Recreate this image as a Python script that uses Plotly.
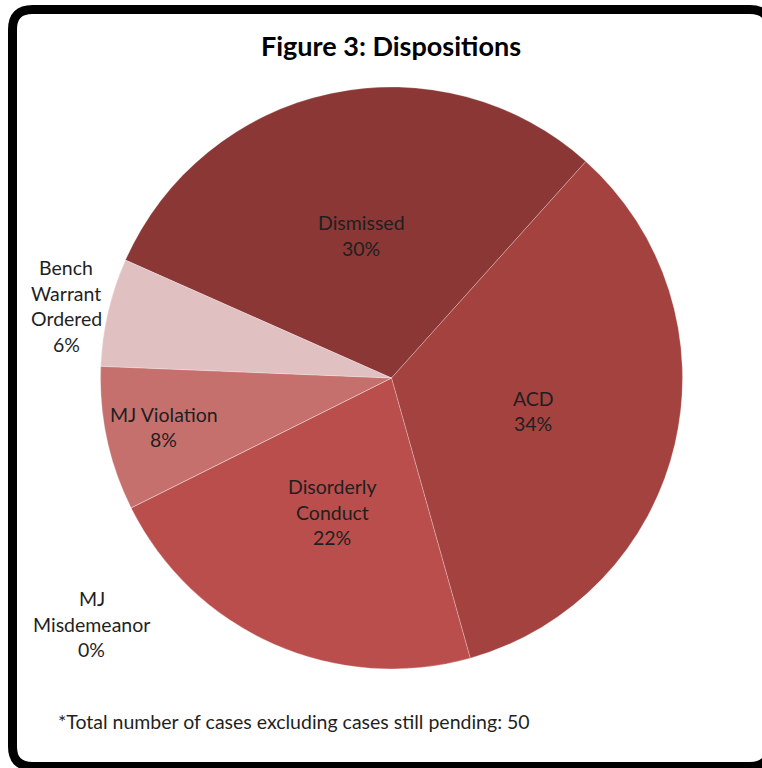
import math
import plotly.graph_objects as go

# ---- data ----
categories = ["Dismissed", "ACD", "Disorderly Conduct", "MJ Misdemeanor", "MJ Violation", "Bench Warrant Ordered"]
label_lines = [["Dismissed"], ["ACD"], ["Disorderly", "Conduct"], ["MJ", "Misdemeanor"], ["MJ Violation"], ["Bench", "Warrant", "Ordered"]]
case_counts = [15, 17, 11, 0, 4, 3]
slice_colors = ["#8A3735", "#A3423F", "#B94E4C", "#D39896", "#C6706E", "#E1C0C1"]
title_text = "Figure 3: Dispositions"
footnote_text = "*Total number of cases excluding cases still pending: 50"

# ---- layout constants (pixels) ----
W, H = 762, 768
CX, CY, R = 391.5, 378.0, 291.0
ROTATION = -66.1
# per-label placement: (radial factor, angle offset in degrees)
label_place = [(0.50, 0), (0.50, 0), (0.504, 0), (1.332, -12.9), (0.80, 0), (1.145, -0.6)]
FONT = "Lato"
TXT = "#1f1f1f"
LINE_H = 25.5
LABEL_SIZE = 19.5


def px(x):
    return x / W


def py(y):
    return 1 - y / H


fig = go.Figure()
fig.add_trace(go.Pie(
    labels=categories,
    values=case_counts,
    sort=False,
    direction="clockwise",
    rotation=ROTATION,
    marker=dict(colors=slice_colors, line=dict(color="rgba(255,255,255,0.25)", width=1)),
    textinfo="none",
    hoverinfo="label+value+percent",
    showlegend=False,
    domain=dict(x=[px(CX - R), px(CX + R)], y=[py(CY + R), py(CY - R)]),
))

# labels computed from the data (mid-angle of each slice)
total = sum(case_counts)
cum = 0
annotations = []
for cat, lines, v, (rf, off) in zip(categories, label_lines, case_counts, label_place):
    mid = ROTATION + (cum + v / 2) / total * 360 + off
    cum += v
    a = math.radians(mid)
    x = CX + rf * R * math.sin(a)
    y = CY - rf * R * math.cos(a)
    pct = f"{round(100 * v / total)}%"
    all_lines = lines + [pct]
    n = len(all_lines)
    for i, t in enumerate(all_lines):
        yy = y + (i - (n - 1) / 2) * LINE_H
        annotations.append(dict(
            x=px(x), y=py(yy), xref="paper", yref="paper",
            text=t, showarrow=False, xanchor="center", yanchor="middle",
            font=dict(family=FONT, size=LABEL_SIZE, color=TXT),
        ))

annotations.append(dict(
    x=px(391), y=py(45), xref="paper", yref="paper", text="<b>" + title_text + "</b>",
    showarrow=False, xanchor="center", yanchor="middle",
    font=dict(family=FONT, size=27, color="#000000"),
))
annotations.append(dict(
    x=px(56), y=py(721), xref="paper", yref="paper", text=footnote_text,
    showarrow=False, xanchor="left", yanchor="middle",
    font=dict(family=FONT, size=LABEL_SIZE, color=TXT),
))

# rounded frame
L, T, Rr, B, rad = 12.5, 9.5, 770.0, 766.5, 20.0
pts = [
    ("M", [(L + rad, T)]), ("L", [(Rr - rad, T)]), ("Q", [(Rr, T), (Rr, T + rad)]),
    ("L", [(Rr, B - rad)]), ("Q", [(Rr, B), (Rr - rad, B)]), ("L", [(L + rad, B)]),
    ("Q", [(L, B), (L, B - rad)]), ("L", [(L, T + rad)]), ("Q", [(L, T), (L + rad, T)]),
]
path = " ".join(cmd + " " + " ".join(f"{px(a):.5f},{py(b):.5f}" for a, b in p) for cmd, p in pts) + " Z"

fig.update_layout(
    width=W, height=H,
    margin=dict(l=0, r=0, t=0, b=0),
    paper_bgcolor="white",
    plot_bgcolor="white",
    annotations=annotations,
    shapes=[dict(type="path", xref="paper", yref="paper", path=path,
                 line=dict(color="black", width=9), layer="above")],
)

fig.write_html("out.html")
